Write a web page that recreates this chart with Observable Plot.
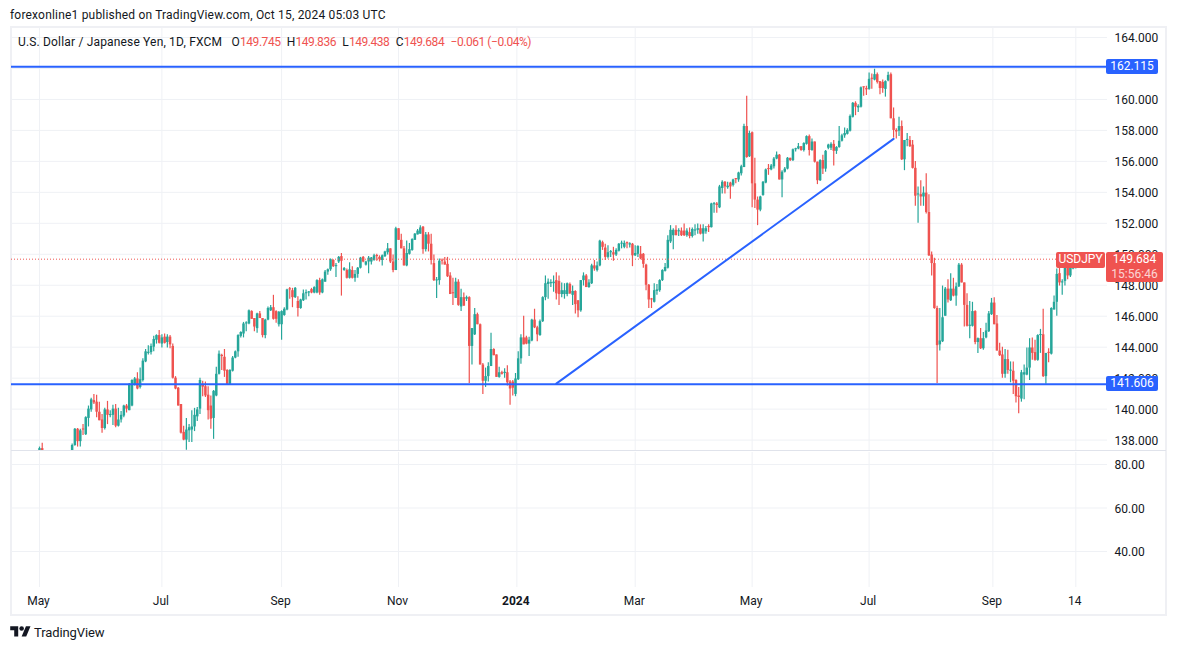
<!DOCTYPE html>
<html>
<head>
<meta charset="utf-8">
<script src="https://cdn.jsdelivr.net/npm/d3@7"></script>
<script src="https://cdn.jsdelivr.net/npm/@observablehq/plot@0.6"></script>
<style>
  body { margin: 0; background: #fff; font-family: Roboto, sans-serif; color: #131722; }
  #page { position: relative; width: 1177px; height: 650px; overflow: hidden; }
  #page > * { position: absolute; }
  #published { left: 10px; top: 8px; font-size: 12px; letter-spacing: 0.19px; }
  #legend { left: 18px; top: 35px; font-size: 12px; z-index: 3; white-space: pre; letter-spacing: 0.17px; }
  #legend span { color: #ef5350; letter-spacing: -0.45px; }
  #frame { left: 10px; top: 26px; width: 1153px; height: 586px; border: 2px solid #eff0f4; }
  .tag { color: #fff; font-size: 12px; text-align: center; line-height: 15px; border-radius: 2px; z-index: 4; }
  #brand { left: 10px; top: 624px; font-size: 13px; display: flex; align-items: center; gap: 3px; letter-spacing: -0.1px; }
</style>
</head>
<body>
<div id="page">
  <div id="published">forexonline1 published on TradingView.com, Oct 15, 2024 05:03 UTC</div>
  <div id="frame"></div>
  <div id="main"></div>
  <div id="lower"></div>
  <div id="legend">U.S. Dollar / Japanese Yen, 1D, FXCM   O<span>149.745</span>  H<span>149.836</span>  L<span>149.438</span>  C<span>149.684</span>  <span>−0.061 (−0.04%)</span></div>
  <div id="brand">
    <svg width="21" height="16" viewBox="0 0 36 28"><path d="M14 22H7V11H0V4h14v18zM28 22h-8l7.5-18h8L28 22z" fill="#131722"/><circle cx="20" cy="8" r="4" fill="#131722"/></svg>
    TradingView
  </div>
</div>
<script>
const opens = [
  136.3,137.45,136.5,135.0,134.2,134.8,135.1,135.2,134.3,134.5,
  135.7,136.1,136.4,137.65,138.7,137.9,138.65,138.35,139.4,139.95,
  140.55,140.45,139.8,139.3,138.75,139.95,139.58,139.6,140.0,138.9,
  139.3,139.55,140.2,139.9,140.2,141.55,141.95,141.4,141.85,143.05,
  143.6,143.65,144.0,144.45,144.75,144.2,144.65,144.3,144.65,144.05,
  142.0,141.35,140.3,138.5,138.0,138.6,138.65,138.85,139.5,140.0,
  141.55,141.45,140.9,140.2,139.4,140.85,142.25,143.4,143.35,142.5,
  141.6,142.45,143.3,143.7,144.7,144.85,145.5,145.5,146.3,145.85,
  145.2,146.15,145.85,144.75,145.75,146.35,146.55,146.3,145.45,145.45,
  146.05,146.4,147.7,147.65,147.2,146.95,146.5,147.0,147.45,147.5,
  147.72,147.5,147.5,148.3,147.5,148.2,148.85,149.0,149.6,149.2,
  149.5,149.85,148.95,148.95,148.45,148.95,148.45,148.7,149.1,149.8,
  149.3,149.5,149.5,149.6,149.85,149.8,149.6,149.85,150.1,150.35,
  149.5,148.95,151.65,150.9,150.35,149.25,150.0,150.25,150.9,151.25,
  151.3,151.75,150.3,151.25,150.65,149.4,148.28,148.3,149.55,149.5,
  149.35,148.6,147.45,147.15,148.2,146.6,147.2,147.1,147.2,144.05,
  144.8,146.1,145.45,142.85,141.8,142.1,142.75,143.85,143.5,142.05,
  142.35,142.3,142.35,141.75,141.75,140.95,141.9,143.25,144.6,144.6,
  144.2,144.4,145.75,145.25,144.75,145.65,147.2,148.05,148.1,148.1,
  148.3,148.25,147.4,147.4,147.4,148.05,147.35,147.6,147.0,146.35,
  148.3,148.6,147.85,148.1,149.25,148.95,149.25,150.75,150.4,149.8,
  150.1,150.1,149.95,150.2,150.65,150.45,150.68,150.6,150.65,149.9,
  150.0,150.0,150.0,149.3,148.0,147.05,146.9,147.6,147.65,148.3,
  148.9,149.1,150.8,151.2,151.55,151.45,151.5,151.5,151.2,151.4,
  151.15,151.5,151.55,151.65,151.3,151.45,151.8,151.72,153.2,153.25,
  153.0,154.25,154.65,154.3,154.6,154.45,154.82,154.8,155.2,155.6,
  158.25,156.3,157.85,154.55,153.5,152.85,153.8,154.6,155.47,155.45,
  155.65,156.15,156.4,154.8,155.3,155.5,156.2,156.05,156.75,156.8,
  156.95,156.7,157.1,157.6,156.7,157.25,155.95,154.75,156.05,155.5,
  156.85,156.85,157.1,156.65,156.9,157.3,157.65,157.75,157.95,158.85,
  159.75,159.45,159.5,160.75,160.7,160.65,161.3,161.25,161.6,161.15,
  161.1,160.65,161.2,161.6,158.75,158.0,157.95,158.25,156.1,157.35,
  157.35,157.05,155.55,153.83,153.85,153.7,153.95,152.7,149.95,149.4,
  146.5,144.15,144.35,146.0,147.75,147.0,147.75,147.3,147.9,149.3,
  148.15,146.7,145.35,145.35,146.3,144.3,144.55,143.9,144.6,145.0,
  146.1,146.85,145.5,143.75,143.5,142.25,143.2,142.45,142.45,141.85,
  140.85,140.65,142.2,142.2,142.65,143.95,143.65,143.15,144.75,144.8,
  142.1,143.6,143.55,146.4,146.9,148.75,148.15,148.25,149.25,148.6,
  149.05,149.3,149.745
];
const highs = [
  137.55,137.8,136.7,135.2,135.1,135.2,135.4,135.5,134.9,135.8,
  136.4,136.7,137.75,138.75,138.75,138.7,139.0,139.5,140.2,140.7,
  140.95,140.9,140.45,139.65,140.05,140.5,139.9,140.25,140.3,140.05,
  139.85,140.25,140.3,141.65,141.9,142.05,142.35,142.65,143.25,143.85,
  144.1,144.2,144.7,144.8,145.07,144.8,144.85,144.8,144.75,144.2,
  142.1,141.4,140.3,138.9,139.4,139.0,139.9,140.05,140.1,142.0,
  141.8,141.75,141.45,140.85,141.2,142.7,143.75,143.55,143.85,142.55,
  142.55,143.4,143.75,144.8,145.0,145.6,145.65,146.4,146.35,145.85,
  146.2,146.3,145.85,145.8,146.6,146.7,147.35,146.35,146.3,146.35,
  146.55,147.75,147.85,147.8,147.85,147.25,147.1,147.7,147.7,147.6,
  147.8,147.9,148.35,148.45,148.4,148.95,149.05,149.7,149.65,149.4,
  149.85,150.05,149.15,149.05,149.45,149.2,148.95,149.15,149.8,149.85,
  149.55,149.85,149.8,150.0,150.0,149.9,149.95,150.2,150.7,150.35,
  149.95,151.75,151.65,151.3,150.5,150.85,150.7,151.0,151.35,151.6,
  151.85,151.8,151.4,151.4,151.3,149.95,148.5,149.7,149.7,149.8,
  149.8,148.8,148.45,148.45,148.35,147.75,147.5,147.3,147.25,145.2,
  146.5,146.2,145.5,142.95,142.65,143.0,144.9,143.9,143.5,142.7,
  142.45,142.6,142.8,141.85,141.85,142.3,143.7,144.8,146.0,144.7,
  144.65,145.8,146.45,145.35,145.75,147.25,148.6,148.4,148.35,148.6,
  148.8,148.6,148.15,148.1,148.15,148.15,147.95,147.65,147.0,148.3,
  148.8,148.7,148.35,149.35,149.6,149.5,150.9,150.85,150.65,150.55,
  150.25,150.45,150.35,150.7,150.85,150.85,150.8,150.75,150.7,150.55,
  150.55,150.5,150.05,149.35,148.05,147.15,148.1,148.05,148.35,149.0,
  149.4,151.2,151.85,151.65,151.85,151.65,151.7,151.95,151.65,151.7,
  151.7,151.9,151.95,151.9,151.9,151.8,151.9,153.3,153.35,153.35,
  154.45,154.75,154.7,154.65,154.65,154.85,154.9,155.3,155.75,158.4,
  160.2,157.95,157.9,156.2,153.7,153.75,154.7,155.5,155.8,155.8,
  156.25,156.6,156.45,155.4,155.6,156.25,156.2,156.8,156.85,157.15,
  156.95,157.2,157.65,157.7,157.45,157.25,155.95,156.1,156.4,156.7,
  157.1,157.2,157.35,156.95,158.25,157.75,158.15,158.1,159.0,159.8,
  159.85,159.65,160.8,160.8,160.85,161.7,161.65,161.95,161.7,161.15,
  161.25,161.2,161.75,161.7,159.45,158.1,158.85,158.6,157.35,157.8,
  157.6,157.35,156.0,154.35,154.75,154.35,155.2,153.85,150.15,149.75,
  146.65,146.5,147.95,147.85,148.35,148.75,148.45,148.15,149.4,149.4,
  148.15,147.45,146.95,146.9,146.35,144.6,145.2,144.95,145.55,146.3,
  147.15,147.2,146.05,144.25,144.0,143.85,143.8,143.05,143.05,141.9,
  141.4,142.5,142.85,143.95,144.55,144.6,144.45,144.8,145.15,146.45,
  143.6,143.9,146.55,147.3,149.05,149.25,148.35,149.25,149.35,149.45,
  149.4,149.98,149.836
];
const lows = [
  136.2,136.3,134.9,133.6,133.5,134.6,134.9,134.0,133.8,134.3,
  135.6,136.0,136.3,137.6,137.55,137.55,138.3,138.3,138.85,139.8,
  140.3,139.45,139.25,138.45,138.65,139.0,139.45,138.95,138.8,138.85,
  139.1,139.45,139.75,139.9,140.15,141.5,141.25,141.3,141.75,143.0,
  143.5,143.5,143.7,144.2,144.2,143.95,144.2,143.95,143.9,141.95,
  141.25,140.2,138.4,137.95,137.35,137.85,137.85,138.55,139.2,139.65,
  140.8,140.75,139.3,138.7,138.05,140.8,142.2,142.5,142.05,141.55,
  141.55,142.4,143.25,143.35,144.6,144.6,145.0,145.45,145.8,145.0,
  144.9,145.85,144.6,144.55,145.7,146.3,145.75,145.55,145.3,144.45,
  146.0,146.35,147.1,146.55,147.15,145.95,146.45,146.95,147.05,147.25,
  147.45,147.45,147.45,147.35,147.45,148.2,148.65,148.9,149.15,148.5,
  149.4,147.3,148.9,148.4,148.4,148.4,148.2,148.45,149.05,149.45,
  149.25,148.75,149.3,149.55,149.55,149.5,149.25,149.8,149.95,149.4,
  148.8,148.95,150.9,150.35,149.25,149.2,149.95,150.2,150.9,151.25,
  151.3,150.0,150.15,150.15,149.3,148.25,147.15,148.0,149.3,149.3,
  148.5,147.4,146.7,147.15,146.65,146.3,146.65,146.95,141.65,142.85,
  144.75,145.45,142.85,140.95,141.4,141.75,142.75,143.45,142.05,142.0,
  142.2,142.0,141.5,140.25,140.85,140.8,141.85,142.9,144.15,144.15,
  143.4,144.35,145.2,144.35,144.7,145.6,147.0,147.1,147.85,147.55,
  147.05,146.7,147.2,147.1,147.25,147.4,146.7,146.15,145.9,146.25,
  147.95,147.85,147.8,148.05,148.9,148.85,149.2,150.25,149.6,149.7,
  149.8,149.55,149.85,150.15,150.35,150.35,150.35,150.4,149.2,149.85,
  149.8,149.65,149.1,147.65,146.5,146.5,146.85,147.35,147.55,148.25,
  148.85,149.05,150.7,150.3,151.2,151.15,151.15,151.15,151.1,151.0,
  151.05,151.2,151.3,151.25,150.8,151.3,151.4,151.7,152.65,152.65,
  152.95,153.9,153.9,154.2,153.55,154.35,154.55,154.65,155.05,155.6,
  156.2,156.25,153.0,152.95,151.85,152.75,153.75,154.55,155.1,155.4,
  155.5,156.1,154.8,153.65,155.25,155.45,156.0,156.0,156.6,156.75,
  156.65,156.6,157.05,156.35,156.65,155.9,154.5,154.7,155.15,155.3,
  156.75,156.7,155.7,156.45,156.85,157.25,157.5,157.7,157.9,158.8,
  158.95,159.15,159.45,160.2,160.25,160.6,160.65,161.2,161.0,160.3,
  160.4,160.15,161.15,158.75,157.5,157.45,157.6,156.05,155.4,156.95,
  156.9,155.5,153.1,152.0,153.1,153.1,152.6,149.85,148.6,146.45,
  141.65,143.75,144.3,146.0,146.85,146.95,147.25,146.65,147.85,148.15,
  145.3,145.3,144.55,145.3,144.15,143.6,143.85,143.8,144.55,144.95,
  146.05,145.45,143.75,143.4,142.0,142.0,142.25,141.7,140.95,140.4,
  139.7,140.45,140.6,142.15,141.85,143.15,143.1,143.1,143.6,142.05,
  141.6,143.0,143.5,146.4,146.0,147.95,147.35,147.95,148.35,148.5,
  149.0,149.05,149.438
];
const closes = [
  137.45,136.5,135.0,134.2,134.8,135.1,135.2,134.3,134.5,135.7,
  136.1,136.4,137.65,138.7,137.9,138.6,138.6,139.45,140.0,140.6,
  140.4,139.8,139.25,138.75,139.95,139.6,139.62,140.0,138.9,139.3,
  139.6,140.2,140.0,141.6,141.85,141.95,141.3,141.9,143.1,143.7,
  143.65,144.05,144.5,144.75,144.25,144.6,144.25,144.65,144.15,142.0,
  141.3,140.2,138.45,138.0,138.65,138.8,138.85,139.6,139.95,141.85,
  141.42,140.85,139.9,139.35,141.15,142.25,143.55,143.35,142.45,141.6,
  142.5,143.3,143.7,144.75,144.95,145.5,145.52,146.35,145.8,145.3,
  146.15,145.85,144.75,145.75,146.5,146.55,145.8,145.8,146.25,146.3,
  146.45,147.7,147.65,147.2,147.8,146.5,147.05,147.45,147.5,147.55,
  147.5,147.85,148.3,147.5,148.35,148.85,149.0,149.65,149.2,149.25,
  149.8,149.55,149.08,148.45,149.0,148.45,148.7,149.1,149.75,149.5,
  149.5,149.75,149.76,149.9,149.8,149.65,149.9,150.15,150.35,149.5,
  148.95,151.65,150.9,150.35,149.25,150.05,150.3,150.95,151.3,151.5,
  151.7,150.3,151.25,150.65,149.6,148.3,148.32,149.55,149.5,149.3,
  148.55,147.4,147.42,148.2,146.7,147.2,146.65,147.2,144.05,145.2,
  146.1,145.45,142.85,141.8,142.1,142.75,143.85,143.45,142.05,142.35,
  142.25,142.38,141.7,141.3,141.35,141.95,143.25,144.6,144.15,144.2,
  144.45,145.75,145.25,144.8,145.65,147.2,148.1,148.2,148.15,148.2,
  147.45,147.4,147.65,147.65,148.1,147.45,147.6,146.75,146.35,148.3,
  148.6,147.85,148.15,149.25,149.05,149.25,150.85,150.45,149.8,150.1,
  150.13,149.95,150.25,150.65,150.66,150.7,150.62,150.68,149.9,150.05,
  150.5,149.7,149.35,148.0,147.05,147.0,147.65,147.7,148.3,148.95,
  149.15,150.9,151.55,151.55,151.2,151.5,151.2,151.2,151.5,151.15,
  151.6,151.55,151.65,151.3,151.65,151.65,151.72,153.25,153.24,153.15,
  154.35,154.65,154.35,154.4,154.35,154.8,154.78,155.25,155.65,158.25,
  156.25,157.8,154.55,153.5,152.85,153.7,154.65,155.45,155.43,155.7,
  156.15,156.4,154.8,155.3,155.5,156.2,156.05,156.75,156.8,156.95,
  156.7,157.15,157.6,156.7,157.25,155.95,154.75,156.05,155.5,156.65,
  157.05,157.1,156.65,156.9,157.3,157.65,157.8,158.0,158.9,159.75,
  159.5,159.55,160.75,160.7,160.62,161.3,161.25,161.6,161.1,160.7,
  160.7,161.15,161.55,158.75,158.0,157.9,158.25,156.1,157.35,157.37,
  156.95,155.55,153.75,153.85,153.7,153.95,152.7,149.9,149.4,146.5,
  144.1,144.4,145.9,147.75,147.05,147.75,147.3,147.9,149.3,148.15,
  146.7,145.35,145.37,146.3,144.3,144.55,143.9,144.55,145.05,146.15,
  146.85,145.45,143.75,143.45,142.25,143.2,142.5,142.5,141.8,140.8,
  140.75,142.35,142.35,142.65,143.95,143.6,143.15,144.75,144.8,142.1,
  143.6,143.55,146.5,146.9,148.7,148.15,148.2,149.25,148.6,149.25,
  149.3,149.75,149.684
];

const priceTicks = [164, 162, 160, 158, 156, 154, 152, 150, 148, 146, 144, 142, 140, 138];
const lowerTicks = [80, 60, 40];
const timeBars = [0, 45, 89, 132, 175.5, 219, 262, 305, 350.5, 381];
const timeLabels = ["May", "Jul", "Sep", "Nov", "2024", "Mar", "May", "Jul", "Sep", "14"];
const levels = [162.115, 141.606];
const lastPrice = 149.684;
const trendBars = [190, 314];
const trendPrices = [141.65, 157.45];

const green = "#26a69a";
const red = "#ef5350";
const blue = "#2962ff";
const gridColor = "#eff1f5";
const font = "Roboto, sans-serif";

const candles = closes.map((c, i) => ({ bar: i, open: opens[i], high: highs[i], low: lows[i], close: c }));
const candleColor = d => (d.close >= d.open ? green : red);
const barX = { domain: [0, 382], range: [39, 39 + 2.72 * 382] };

const main = Plot.plot({
  width: 1177,
  height: 451,
  marginTop: 27,
  marginLeft: 11,
  marginRight: 70,
  marginBottom: 1,
  style: { background: "transparent", fontFamily: font },
  x: { ...barX, axis: null },
  y: { domain: [164, 138], range: [37, 439.6], axis: null },
  marks: [
    Plot.ruleX(timeBars, { stroke: gridColor }),
    Plot.ruleY(priceTicks, { stroke: gridColor }),
    Plot.text(priceTicks, {
      y: d => d,
      text: d => d.toFixed(3),
      frameAnchor: "right",
      textAnchor: "start",
      dx: 7,
      dy: 1,
      fontSize: 12,
      fill: "#131722",
    }),
    Plot.ruleX(candles, { x: "bar", y1: "low", y2: "high", stroke: candleColor, strokeWidth: 1.2, clip: true }),
    Plot.ruleX(candles, {
      x: "bar",
      y1: "open",
      y2: d => (Math.abs(d.close - d.open) < 0.07 ? d.open + 0.07 : d.close),
      stroke: candleColor,
      strokeWidth: 2.5,
      clip: true,
    }),
    Plot.ruleY([lastPrice], { stroke: red, strokeWidth: 1, strokeDasharray: "1 2" }),
    Plot.ruleY(levels, { stroke: blue, strokeWidth: 2 }),
    Plot.line(trendBars.map((b, i) => ({ bar: b, price: trendPrices[i] })), {
      x: "bar",
      y: "price",
      stroke: blue,
      strokeWidth: 2,
    }),
  ],
});
document.querySelector("#main").append(main);

const lower = Plot.plot({
  width: 1177,
  height: 163,
  marginTop: 1,
  marginLeft: 11,
  marginRight: 70,
  marginBottom: 27,
  style: { background: "transparent", fontFamily: font },
  x: { ...barX, axis: null },
  y: { domain: [80, 40], range: [13, 100], axis: null },
  marks: [
    Plot.ruleX(timeBars, { stroke: gridColor }),
    Plot.ruleY(lowerTicks, { stroke: gridColor }),
    Plot.text(lowerTicks, {
      y: d => d,
      text: d => d.toFixed(2),
      frameAnchor: "right",
      textAnchor: "start",
      dx: 7,
      dy: 1,
      fontSize: 12,
      fill: "#131722",
    }),
    Plot.text(timeBars.filter((d, i) => timeLabels[i] !== "2024"), {
      x: d => d,
      text: d => timeLabels[timeBars.indexOf(d)],
      frameAnchor: "bottom",
      dx: -1,
      dy: 17,
      fontSize: 12,
      fill: "#131722",
    }),
    Plot.text(timeBars.filter((d, i) => timeLabels[i] === "2024"), {
      x: d => d,
      text: d => timeLabels[timeBars.indexOf(d)],
      frameAnchor: "bottom",
      dx: -1,
      dy: 17,
      fontSize: 12,
      fontWeight: "bold",
      fill: "#131722",
    }),
  ],
});
lower.style.position = "absolute";
lower.style.top = "0";
const lowerBox = document.querySelector("#lower");
lowerBox.style.cssText = "left:0;top:451px;width:1177px;height:163px;border-top:0";
lowerBox.append(lower);

// pane separator
const sep = document.createElement("div");
sep.style.cssText = "left:11px;top:450px;width:1155px;height:1px;background:#e0e3eb";
document.querySelector("#page").append(sep);

// price tags sit on the axis, placed with the chart's own y scale
const yPos = main.scale("y").apply;
function tag(html, left, top, width, height, color) {
  const el = document.createElement("div");
  el.className = "tag";
  el.style.cssText = `left:${left}px;top:${top}px;width:${width}px;height:${height}px;background:${color}`;
  el.innerHTML = html;
  document.querySelector("#page").append(el);
}
levels.forEach(p => tag(p.toFixed(3), 1106, yPos(p) - 7.5, 52, 15, blue));
tag("USDJPY", 1056, yPos(lastPrice) - 7, 49, 16, red);
tag(`${lastPrice.toFixed(3)}<br><span style="opacity:.75">15:56:46</span>`, 1106, yPos(lastPrice) - 7, 57, 30, red);
</script>
</body>
</html>
